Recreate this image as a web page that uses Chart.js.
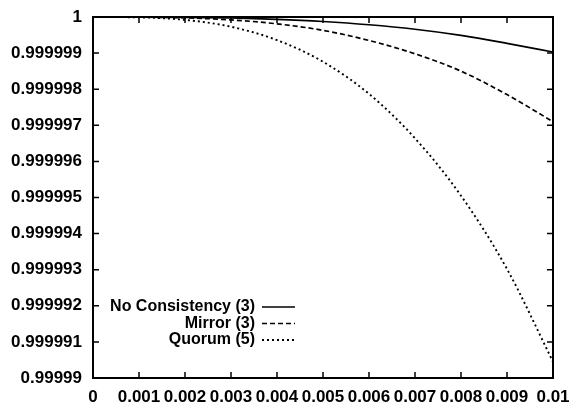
<!DOCTYPE html>
<html>
<head>
<meta charset="utf-8">
<script src="https://cdn.jsdelivr.net/npm/chart.js@4.4.0/dist/chart.umd.min.js"></script>
<style>
  html, body { margin: 0; padding: 0; background: #fff; }
</style>
</head>
<body>
<canvas id="myChart" width="569" height="404"></canvas>
<script>
// values
const xValues = [0, 0.001, 0.002, 0.003, 0.004, 0.005, 0.006, 0.007, 0.008, 0.009, 0.01];
const noConsistency = [1, 0.999999999, 0.999999992, 0.999999973, 0.999999936, 0.999999875, 0.999999785, 0.99999966, 0.99999949, 0.99999927, 0.99999903];
const mirror = [1, 0.999999997, 0.999999976, 0.99999992, 0.99999981, 0.99999963, 0.99999935, 0.99999898, 0.9999985, 0.99999785, 0.9999971];
const quorum = [1, 0.99999999, 0.99999992, 0.99999973, 0.99999936, 0.99999876, 0.99999787, 0.99999664, 0.99999505, 0.99999302, 0.99999045];

const seriesNames = ['No Consistency (3)', 'Mirror (3)', 'Quorum (5)'];

const xTicks = [0, 0.001, 0.002, 0.003, 0.004, 0.005, 0.006, 0.007, 0.008, 0.009, 0.01];
const yTicks = [0.99999, 0.999991, 0.999992, 0.999993, 0.999994, 0.999995, 0.999996, 0.999997, 0.999998, 0.999999, 1];

const FONT = '"Liberation Sans", Arial, Helvetica, sans-serif';

function trimNum(v, digits) {
    return v.toFixed(digits).replace(/0+$/, '').replace(/\.$/, '');
}

function points(ys) {
    return xValues.map((x, i) => ({x: x, y: ys[i]}));
}

// frame with inward ticks on all four sides, like gnuplot
const framePlugin = {
    id: 'frame',
    afterDraw(chart) {
        const ctx = chart.ctx;
        const a = chart.chartArea;
        const xs = chart.scales.x, ys = chart.scales.y;
        const len = 6;
        ctx.save();
        ctx.strokeStyle = '#000';
        ctx.lineWidth = 1.5;
        ctx.beginPath();
        xTicks.forEach(v => {
            const px = xs.getPixelForValue(v);
            ctx.moveTo(px, a.bottom); ctx.lineTo(px, a.bottom - len);
            ctx.moveTo(px, a.top); ctx.lineTo(px, a.top + len);
        });
        yTicks.forEach(v => {
            const py = ys.getPixelForValue(v);
            ctx.moveTo(a.left, py); ctx.lineTo(a.left + len, py);
            ctx.moveTo(a.right, py); ctx.lineTo(a.right - len, py);
        });
        ctx.stroke();
        ctx.lineWidth = 2;
        ctx.strokeRect(a.left, a.top, a.right - a.left, a.bottom - a.top);
        ctx.restore();
    }
};

// gnuplot style key: text right aligned, sample line after it
const keyPlugin = {
    id: 'key',
    afterDatasetsDraw(chart) {
        const ctx = chart.ctx;
        const textRight = 255, lineX0 = 262, lineX1 = 295;
        const rowY = [307, 323.5, 340];
        ctx.save();
        ctx.font = 'bold 16px ' + FONT;
        ctx.fillStyle = '#000';
        ctx.textAlign = 'right';
        ctx.textBaseline = 'middle';
        chart.data.datasets.forEach((ds, i) => {
            ctx.fillText(ds.label, textRight, rowY[i]);
            ctx.beginPath();
            ctx.setLineDash(ds.borderDash || []);
            ctx.lineWidth = ds.borderWidth;
            ctx.strokeStyle = ds.borderColor;
            ctx.moveTo(lineX0, rowY[i]);
            ctx.lineTo(lineX1, rowY[i]);
            ctx.stroke();
        });
        ctx.restore();
    }
};

const ctx = document.getElementById('myChart').getContext('2d');
const myChart = new Chart(ctx, {
    type: 'line',
    data: {
        datasets: [{
            label: seriesNames[0],
            data: points(noConsistency),
            borderColor: '#000',
            borderWidth: 1.7,
            borderDash: []
        }, {
            label: seriesNames[1],
            data: points(mirror),
            borderColor: '#000',
            borderWidth: 1.7,
            borderDash: [5, 3]
        }, {
            label: seriesNames[2],
            data: points(quorum),
            borderColor: '#000',
            borderWidth: 1.9,
            borderDash: [2, 3]
        }]
    },
    options: {
        responsive: false,
        animation: false,
        devicePixelRatio: 1,
        layout: { padding: { top: 17, right: 16, left: 0, bottom: 0 } },
        elements: {
            point: { radius: 0 },
            line: { cubicInterpolationMode: 'monotone' }
        },
        plugins: {
            legend: { display: false },
            tooltip: { enabled: false }
        },
        scales: {
            x: {
                type: 'linear',
                min: 0,
                max: 0.01,
                grid: { display: false, drawTicks: false },
                border: { display: false },
                afterBuildTicks: s => { s.ticks = xTicks.map(v => ({value: v})); },
                afterFit: s => { s.height = 26; s.paddingLeft = 0; s.paddingRight = 0; },
                ticks: {
                    autoSkip: false,
                    maxRotation: 0,
                    padding: 9,
                    color: '#000',
                    font: { family: FONT, size: 17, weight: 'bold' },
                    callback: v => trimNum(v, 3)
                }
            },
            y: {
                type: 'linear',
                min: 0.99999,
                max: 1,
                grid: { display: false, drawTicks: false },
                border: { display: false },
                afterBuildTicks: s => { s.ticks = yTicks.map(v => ({value: v})); },
                afterFit: s => { s.width = 93; s.paddingTop = 0; s.paddingBottom = 0; },
                ticks: {
                    autoSkip: false,
                    padding: 11,
                    color: '#000',
                    font: { family: FONT, size: 17, weight: 'bold' },
                    callback: v => trimNum(v, 6)
                }
            }
        }
    },
    plugins: [framePlugin, keyPlugin]
});
</script>
</body>
</html>
